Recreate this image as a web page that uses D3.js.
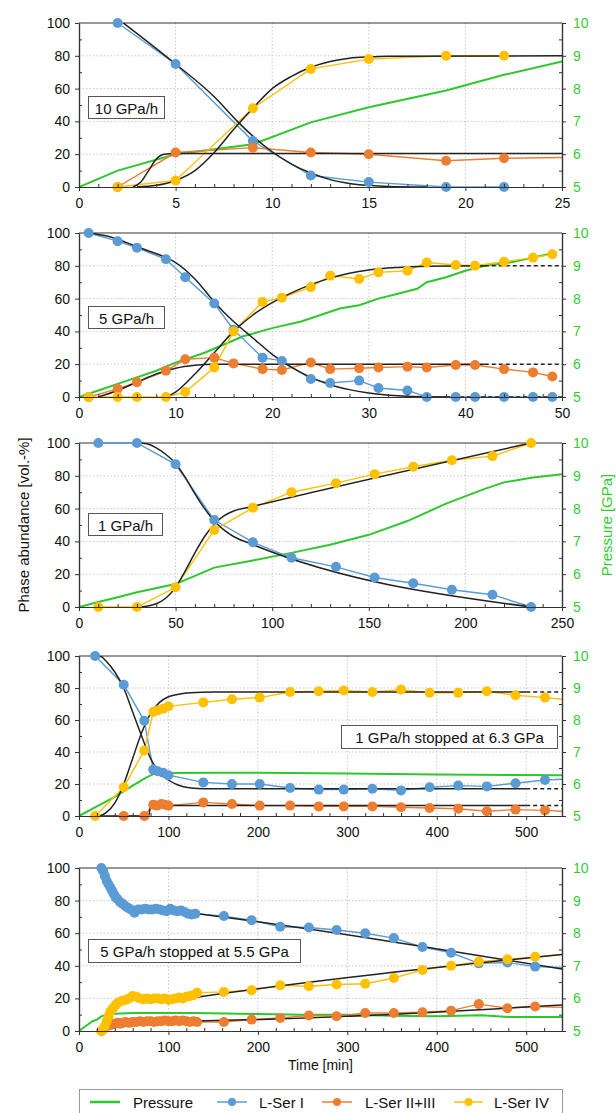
<!DOCTYPE html>
<html>
<head>
<meta charset="utf-8">
<script src="https://cdn.jsdelivr.net/npm/d3@7"></script>
<style>
  body { margin: 0; background: #fff; }
  svg { font-family: "Liberation Sans", Arial, sans-serif; }
</style>
</head>
<body>
<script>
// ---- panel 1: 10 GPa/h ----
var p1Pressure = [[0,5.0],[2,5.5],[5,6.0],[9,6.3],[12,6.97],[15,7.43],[19,7.94],[22,8.42],[25,8.83]];
var p1SerI = [[2,100],[5,75],[9,28],[12,7],[15,3],[19,0],[22,0]];
var p1SerII = [[2,0],[5,21],[9,24],[12,21],[15,20],[19,16],[22,17.5]];
var p1SerIV = [[2,0],[5,4],[9,48],[12,72],[15,78],[19,80],[22,80]];
var p1FitI = [[2.3,100],[5,75],[7,55],[8.2,40],[9,31],[10,21.5],[11,14],[12,8.5],[13,4.5],[14,2.2],[15,1],[16,0.3],[18,0]];
var p1FitII = [[2.8,0],[3.2,3],[3.6,10],[4,17],[4.4,20],[5,20.5],[25,20.5]];
var p1FitIV = [[3,0],[4,1],[5,4],[6,10],[7,21],[8,35],[9,48],[10,60],[11,67.5],[12,73],[13,76.5],[14,78.5],[15,79.3],[16,79.7],[25,80]];
var p1Tails = [null, 18, null];

// ---- panel 2: 5 GPa/h ----
var p2Pressure = [[0,5.0],[2,5.2],[5,5.5],[8,5.8],[10,6.05],[13,6.35],[15,6.6],[17,6.85],[20,7.1],[23,7.3],[25,7.5],[27,7.7],[29,7.8],[31,8.0],[33,8.15],[35,8.3],[36,8.5],[38,8.65],[40,8.85],[42,9.0],[45,9.12],[47,9.25],[49,9.38]];
var p2SerI = [[1,100],[4,95],[6,91],[9,84],[11,73],[14,57],[16,41],[19,24],[21,22],[24,11],[26,8.5],[29,10],[31,5.5],[34,4],[36,0],[39,0],[41,0],[44,0],[47,0],[49,0]];
var p2SerII = [[1,0],[4,5],[6,9],[9,16],[11,23],[14,24],[16,20.5],[19,17],[21,16.5],[24,21],[26,17],[29,17.5],[31,18],[34,18.5],[36,18],[39,19.5],[41,19.5],[44,17],[47,15],[49,12.5]];
var p2SerIV = [[1,0],[4,0],[6,0],[9,0],[11,3],[14,18],[16,40],[19,58],[21,60.5],[24,67],[26,74],[29,72],[31,76],[34,77],[36,82],[39,80.5],[41,80],[44,82.5],[47,85],[49,87]];
var p2FitI = [[1,100],[3,98],[5,94],[7,89.5],[9,85],[10,82],[12,72],[14,58],[16,46],[18,36],[20,26],[22,18],[24,12],[26,7.5],[28,4.5],[30,2.5],[33,0.8],[36,0.1],[38,0]];
var p2FitII = [[2,0],[4,4],[6,9],[8,14],[10,17.5],[12,19.3],[14,20],[42,20]];
var p2FitIV = [[9,0],[10,3],[12,14],[14,27],[16,40],[18,50],[20,57.5],[22,63.5],[24,68.5],[26,72.5],[28,75.5],[30,77.5],[33,79],[36,79.7],[42,80]];
var p2Tails = [null, null, null];

// ---- panel 3: 1 GPa/h ----
var p3Pressure = [[0,5.0],[10,5.15],[20,5.3],[30,5.45],[50,5.7],[60,5.95],[70,6.2],[90,6.42],[110,6.65],[130,6.9],[150,7.2],[170,7.62],[190,8.15],[210,8.6],[220,8.8],[235,8.95],[250,9.05]];
var p3SerI = [[10,100],[30,100],[50,87],[70,53],[90,39.5],[110,30],[133,24.5],[153,18],[173,14.5],[193,10.5],[214,7.5],[234,0]];
var p3SerII = [];
var p3SerIV = [[10,0],[30,0],[50,12],[70,47],[90,60.5],[110,70],[133,75.5],[153,81],[173,85.5],[193,89.5],[214,92],[234,100]];
var p3FitI = [[30,100],[35,99.5],[40,97],[45,93],[50,87.5],[55,79],[60,69],[65,60],[70,52.5],[75,47],[80,43],[88,39],[234,0]];
var p3FitII = [];
var p3FitIV = [[30,0],[35,0.5],[40,2],[45,5.5],[50,12],[55,22],[60,33],[65,43],[70,50.5],[75,55.5],[80,58.5],[88,60.8],[234,100]];
var p3Tails = [null, null, null];

// ---- panel 4: 1 GPa/h stopped at 6.3 GPa ----
var p4Pressure = [[0,5.0],[20,5.3],[40,5.6],[60,5.95],[75,6.2],[85,6.33],[100,6.34],[150,6.35],[200,6.35],[300,6.33],[400,6.3],[500,6.28],[540,6.27]];
var p4SerI = [[18,100],[50,82],[73,59.5],[83,29],[88,28],[94,27],[100,25.5],[139,21],[171,20],[202,20],[236,17.5],[268,16.5],[296,16.5],[328,17],[360,16],[392,18],[424,19],[456,18.5],[488,20.5],[521,22.5]];
var p4SerII = [[50,0],[73,0],[83,7],[87,6.5],[92,7.5],[96,7],[100,6.5],[139,8.5],[171,7.5],[202,6.5],[236,6.5],[268,6],[296,6],[328,6],[360,5.5],[392,5],[424,4.5],[456,3],[488,4],[521,3.5]];
var p4SerIV = [[18,0],[50,18],[73,41],[83,65],[88,66],[94,67],[100,68.5],[139,71],[171,73],[202,74],[236,77.5],[268,78],[296,78.5],[328,77.5],[360,79],[392,77],[424,77],[456,78],[488,75.5],[521,74]];
var p4FitI = [[20,100],[25,99.5],[30,97],[40,90],[50,80],[60,65],[70,50],[80,36],[90,27],[100,22.5],[110,19.5],[125,17.5],[140,17],[200,17],[500,17]];
var p4FitII = [[20,0],[78,0],[80,6],[82,6.5],[500,6.5]];
var p4FitIV = [[20,0],[25,0.5],[30,2],[40,8],[50,20],[60,36],[70,52],[80,64],[90,71],[100,74.5],[110,76],[125,77],[150,77.5],[500,77.5]];
var p4Tails = [23, 3, 73];

// ---- panel 5: 5 GPa/h stopped at 5.5 GPa ----
var p5Pressure = [[0,5.0],[5,5.1],[10,5.2],[15,5.3],[20,5.35],[25,5.45],[30,5.5],[40,5.53],[60,5.55],[100,5.55],[130,5.55],[200,5.52],[250,5.5],[300,5.5],[350,5.47],[400,5.45],[450,5.48],[480,5.43],[540,5.43]];
var p5SerI = [[25,100],[27,98],[29,95],[31,92],[33,90],[35,88],[37,86],[39,84],[41,82],[43,81],[46,79],[49,78],[52,76.5],[55,75.5],[58,74.5],[62,72.5],[66,74.5],[70,74.5],[74,75],[78,74.5],[82,74.5],[86,75],[90,74.5],[94,74],[98,73.5],[102,75],[106,74],[110,73.5],[114,74],[118,73],[122,72],[126,71.5],[130,72],[162,70.5],[193,68],[225,64],[257,63.5],[288,62],[320,60],[352,57],[384,51.5],[416,48],[447,41.5],[479,42],[510,39.5]];
var p5SerII = [[25,0],[28,1.5],[31,3],[34,3.5],[37,4],[40,4.5],[43,5],[46,4.5],[49,5],[52,5.5],[56,5],[60,5.5],[64,5.5],[68,6],[72,5.5],[76,6],[80,6],[84,5.5],[88,6],[92,6],[96,6.5],[100,6],[104,6],[108,6.5],[112,6],[116,6.5],[120,6],[124,5.5],[128,6],[132,5.5],[162,5.5],[193,7],[225,8],[257,9.5],[288,9],[320,11],[352,11],[384,11.5],[416,12.5],[447,16.5],[479,14],[510,15]];
var p5SerIV = [[25,0],[27,1],[29,3],[31,6],[33,9],[35,12],[38,14],[41,16],[44,17.5],[48,18.5],[52,19],[56,20],[60,21.5],[64,21],[68,20],[72,19.5],[76,20],[80,19.5],[84,20],[88,20],[92,19.5],[96,20],[100,19],[104,19.5],[108,20],[112,20.5],[116,20],[120,21],[124,21.5],[128,22],[132,23.5],[162,24],[193,25],[225,28],[257,27.5],[288,28.5],[320,29],[352,32.5],[384,37.5],[416,40],[447,42.5],[479,44],[510,45.5]];
var p5FitI = [[25,100],[28,97],[31,93],[34,89],[37,85.5],[40,82.5],[44,79.5],[48,77.5],[52,76],[56,75],[60,74.5],[70,74],[100,74],[115,73.5],[125,72.5],[135,71.8],[540,38]];
var p5FitII = [[22,0],[26,0.5],[30,2.5],[34,3.8],[38,4.5],[44,5.2],[52,5.6],[65,5.9],[100,6],[130,6.2],[540,16]];
var p5FitIV = [[25,0],[28,2],[31,6],[34,10],[37,13.5],[40,15.5],[44,17.3],[48,18.3],[55,19],[70,19.2],[100,19.3],[120,19.8],[135,21],[540,47]];
var p5Tails = [39, 14.5, 47];

var yTicks = [0, 20, 40, 60, 80, 100];
var pTicks = [5, 6, 7, 8, 9, 10];
var seriesNames = ['L-Ser I', 'L-Ser II+III', 'L-Ser IV'];
var seriesColors = ['#5b9bd5', '#ed7d31', '#ffc000'];
var green = '#2ec82e';

var width = 616, height = 1113,
    left = 79, right = 562;

var panels = [
  {top: 23,  bottom: 187,  xMax: 25,  major: 5,   minor: 1,  label: '10 GPa/h', box: [88, 96, 76, 22],
   pressure: p1Pressure, ser: [p1SerI, p1SerII, p1SerIV], fits: [p1FitI, p1FitII, p1FitIV], tails: p1Tails, dashTo: null},
  {top: 233, bottom: 397,  xMax: 50,  major: 10,  minor: 2,  label: '5 GPa/h', box: [88, 306, 76, 22],
   pressure: p2Pressure, ser: [p2SerI, p2SerII, p2SerIV], fits: [p2FitI, p2FitII, p2FitIV], tails: p2Tails, dashTo: 50},
  {top: 443, bottom: 607,  xMax: 250, major: 50,  minor: 10, label: '1 GPa/h', box: [88, 513, 74, 22],
   pressure: p3Pressure, ser: [p3SerI, p3SerII, p3SerIV], fits: [p3FitI, p3FitII, p3FitIV], tails: p3Tails, dashTo: null},
  {top: 656, bottom: 816,  xMax: 540, major: 100, minor: 20, label: '1 GPa/h stopped at 6.3 GPa', box: [341, 725, 216, 23],
   pressure: p4Pressure, ser: [p4SerI, p4SerII, p4SerIV], fits: [p4FitI, p4FitII, p4FitIV], tails: p4Tails, dashTo: 540},
  {top: 868, bottom: 1031, xMax: 540, major: 100, minor: 20, label: '5 GPa/h stopped at 5.5 GPa', box: [88, 939, 212, 23],
   pressure: p5Pressure, ser: [p5SerI, p5SerII, p5SerIV], fits: [p5FitI, p5FitII, p5FitIV], tails: p5Tails, dashTo: null}
];

var svg = d3.select('body').append('svg')
    .attr('width', width)
    .attr('height', height);

panels.forEach(function(p, i) {
  var x = d3.scaleLinear().domain([0, p.xMax]).range([left, right]);
  var y = d3.scaleLinear().domain([0, 100]).range([p.bottom, p.top]);
  var yP = d3.scaleLinear().domain([5, 10]).range([p.bottom, p.top]);

  var g = svg.append('g');

  svg.append('clipPath').attr('id', 'clip' + i)
    .append('rect')
    .attr('x', left).attr('y', p.top - 1)
    .attr('width', right - left).attr('height', p.bottom - p.top + 2);

  var xMajor = d3.range(0, p.xMax + 0.001, p.major);
  var xMinor = d3.range(0, p.xMax + 0.001, p.minor).filter(function(v) { return Math.abs(v / p.major - Math.round(v / p.major)) > 1e-6; });

  // grid
  g.selectAll('.gx').data(xMajor.filter(function(v) { return v > 0 && v < p.xMax; }))
    .enter().append('line')
    .attr('x1', function(d) { return x(d); }).attr('x2', function(d) { return x(d); })
    .attr('y1', p.top).attr('y2', p.bottom)
    .attr('stroke', '#c8c8c8').attr('stroke-dasharray', '1.5,2');
  g.selectAll('.gy').data(yTicks.filter(function(v) { return v > 0 && v < 100; }))
    .enter().append('line')
    .attr('x1', left).attr('x2', right)
    .attr('y1', function(d) { return y(d); }).attr('y2', function(d) { return y(d); })
    .attr('stroke', '#c8c8c8').attr('stroke-dasharray', '1.5,2');

  // top frame
  g.append('line').attr('x1', left).attr('x2', right).attr('y1', p.top).attr('y2', p.top)
    .attr('stroke', '#333').attr('stroke-width', 1.2);

  var line = d3.line().x(function(d) { return x(d[0]); }).y(function(d) { return y(d[1]); });
  var lineP = d3.line().x(function(d) { return x(d[0]); }).y(function(d) { return yP(d[1]); });
  var fitLine = d3.line().x(function(d) { return x(d[0]); }).y(function(d) { return y(d[1]); }).curve(d3.curveMonotoneX);

  var plot = g.append('g').attr('clip-path', 'url(#clip' + i + ')');

  plot.append('path').attr('d', lineP(p.pressure))
    .attr('fill', 'none').attr('stroke', green).attr('stroke-width', 2);

  p.ser.forEach(function(s, k) {
    if (!s.length) return;
    var pts = s.slice();
    if (p.tails[k] != null) pts.push([p.xMax, p.tails[k]]);
    plot.append('path').attr('d', line(pts))
      .attr('fill', 'none').attr('stroke', seriesColors[k]).attr('stroke-width', 1.4);
  });
  p.ser.forEach(function(s, k) {
    g.append('g').selectAll('circle').data(s).enter().append('circle')
      .attr('cx', function(d) { return x(d[0]); })
      .attr('cy', function(d) { return y(d[1]); })
      .attr('r', 5)
      .attr('fill', seriesColors[k]);
  });

  p.fits.forEach(function(f) {
    if (!f.length) return;
    plot.append('path').attr('d', fitLine(f))
      .attr('fill', 'none').attr('stroke', '#222').attr('stroke-width', 1.5);
    if (p.dashTo != null) {
      var last = f[f.length - 1];
      plot.append('path').attr('d', line([last, [p.dashTo, last[1]]]))
        .attr('fill', 'none').attr('stroke', '#222').attr('stroke-width', 1.5)
        .attr('stroke-dasharray', '4,3');
    }
  });

  // axes
  g.append('g').attr('transform', 'translate(0,' + p.bottom + ')')
    .call(d3.axisBottom(x).tickValues(xMajor).tickSize(4).tickSizeOuter(0).tickPadding(7));
  g.append('g').attr('transform', 'translate(0,' + p.bottom + ')')
    .call(d3.axisBottom(x).tickValues(xMinor).tickSize(-3).tickSizeOuter(0).tickFormat(''));
  g.append('g').attr('transform', 'translate(' + left + ',0)')
    .call(d3.axisLeft(y).tickValues(yTicks).tickSize(4).tickSizeOuter(0).tickPadding(5));
  g.append('g').attr('transform', 'translate(' + left + ',0)')
    .call(d3.axisLeft(y).tickValues([10, 30, 50, 70, 90]).tickSize(-3).tickSizeOuter(0).tickFormat(''));
  var ar = g.append('g').attr('transform', 'translate(' + right + ',0)')
    .call(d3.axisRight(yP).tickValues(pTicks).tickSize(4).tickSizeOuter(0).tickPadding(7).tickFormat(d3.format('d')));
  g.append('g').attr('transform', 'translate(' + right + ',0)')
    .call(d3.axisRight(yP).tickValues([5.5, 6.5, 7.5, 8.5, 9.5]).tickSize(-3).tickSizeOuter(0).tickFormat(''));

  g.selectAll('.domain').attr('stroke', '#333').attr('stroke-width', 1.2);
  g.selectAll('.tick line').attr('stroke', '#333');
  g.selectAll('.tick text').attr('font-size', 14).attr('font-family', '"Liberation Sans", Arial, sans-serif').attr('fill', '#111');
  ar.selectAll('.tick text').attr('fill', '#33cc33');

  // label box
  g.append('rect')
    .attr('x', p.box[0] + 0.5).attr('y', p.box[1] + 0.5)
    .attr('width', p.box[2]).attr('height', p.box[3])
    .attr('fill', '#fff').attr('stroke', '#555').attr('stroke-width', 1);
  g.append('text')
    .attr('x', p.box[0] + p.box[2] / 2 + 0.5).attr('y', p.box[1] + p.box[3] / 2 + 1)
    .attr('text-anchor', 'middle').attr('dominant-baseline', 'central')
    .attr('font-size', 15).attr('fill', '#111')
    .text(p.label);
});

// axis titles
svg.append('text')
  .attr('transform', 'translate(23,525) rotate(-90)')
  .attr('text-anchor', 'middle').attr('dominant-baseline', 'central')
  .attr('font-size', 15).attr('fill', '#111')
  .text('Phase abundance [vol.-%]');
svg.append('text')
  .attr('transform', 'translate(606,525) rotate(-90)')
  .attr('text-anchor', 'middle').attr('dominant-baseline', 'central')
  .attr('font-size', 15).attr('fill', '#33cc33')
  .text('Pressure [GPa]');
svg.append('text')
  .attr('x', (left + right) / 2).attr('y', 1070)
  .attr('text-anchor', 'middle')
  .attr('font-size', 14).attr('fill', '#111')
  .text('Time [min]');

// legend
var leg = svg.append('g');
leg.append('rect')
  .attr('x', 79.5).attr('y', 1089.5).attr('width', 483).attr('height', 30)
  .attr('fill', '#fff').attr('stroke', '#999');
var legItems = [
  {name: 'Pressure', color: green, marker: false, x1: 90, x2: 120, tx: 133},
  {name: seriesNames[0], color: seriesColors[0], marker: true, x1: 217, x2: 247, tx: 259},
  {name: seriesNames[1], color: seriesColors[1], marker: true, x1: 322, x2: 352, tx: 365},
  {name: seriesNames[2], color: seriesColors[2], marker: true, x1: 454, x2: 483, tx: 494}
];
legItems.forEach(function(d) {
  leg.append('line').attr('x1', d.x1).attr('x2', d.x2).attr('y1', 1102).attr('y2', 1102)
    .attr('stroke', d.color).attr('stroke-width', d.marker ? 1.5 : 2.5);
  if (d.marker) {
    leg.append('circle').attr('cx', (d.x1 + d.x2) / 2).attr('cy', 1102).attr('r', 4).attr('fill', d.color);
  }
  leg.append('text').attr('x', d.tx).attr('y', 1102)
    .attr('dominant-baseline', 'central')
    .attr('font-size', 15).attr('fill', '#111')
    .text(d.name);
});
</script>
</body>
</html>
